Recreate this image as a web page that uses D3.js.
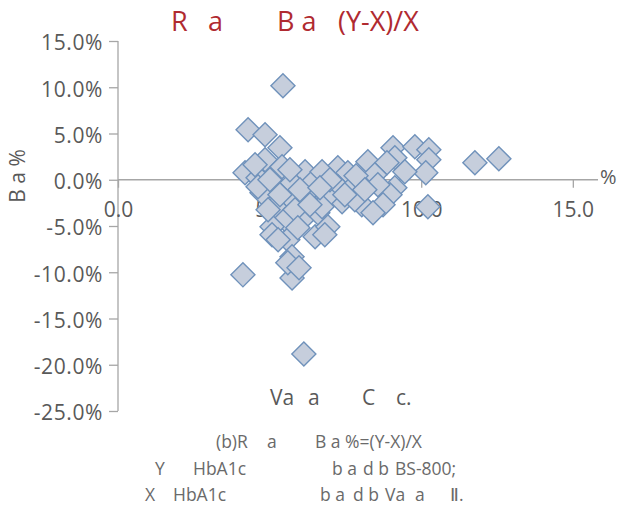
<!DOCTYPE html>
<html>
<head>
<meta charset="utf-8">
<script src="https://cdn.jsdelivr.net/npm/d3@7"></script>
<style>
  html, body { margin: 0; padding: 0; background: #fff; }
  svg { display: block; font-family: "Open Sans", "Noto Sans", sans-serif; }
  text { white-space: pre; }
</style>
</head>
<body>
<svg id="chart" width="619" height="507"></svg>
<script>
// HbA1c level (%) for each sample
const hba1cLevel = [
  5.44, 4.29, 4.85, 5.34, 4.85, 4.19, 5.41, 4.62, 5.18, 5.74,
  6.17, 6.40, 5.74, 6.40, 5.18, 5.51, 6.17, 5.08, 5.60, 6.50,
  4.75, 4.95, 5.74, 4.62, 5.84, 9.07, 9.13, 8.24, 7.25, 7.58,
  8.87, 8.47, 9.79, 6.73, 9.13, 8.97, 8.57, 8.04, 8.74, 8.41,
  7.25, 7.39, 6.89, 6.92, 6.82, 6.59, 6.73, 10.25, 10.25, 10.15,
  11.77, 12.56, 10.22, 4.12, 5.74, 5.60, 5.97, 6.13, 5.08, 6.00,
  6.99, 7.72, 7.81, 5.01, 5.34, 5.93, 6.33, 7.85, 9.46, 4.52,
  5.28, 7.48, 8.14, 5.67, 6.66
];
// Relative bias (%) = (Y - X) / X
const relativeBias = [
  10.17, 5.41, 4.87, 3.46, 2.16, 0.76, 1.41, 0.22, -0.76, -0.32,
  0.87, -0.32, -2.16, -1.84, -2.92, -4.33, -4.00, -5.09, -6.49, -6.17,
  -1.41, -3.25, -8.33, -0.76, -3.25, 3.46, 2.38, 1.95, 1.30, 0.76,
  1.84, 0.54, 3.57, 0.87, -0.87, -1.62, -0.54, -2.71, -2.71, -3.57,
  -0.76, -2.38, -1.84, -5.09, -5.95, -3.57, -2.92, 3.25, 2.16, 0.76,
  1.84, 2.27, -2.92, -10.28, -10.61, -8.98, -9.52, -18.83, -5.95, -1.08,
  0.00, -0.87, -2.16, 0.00, -1.62, -5.19, -2.71, 0.43, 0.87, 1.62,
  -6.49, -1.62, -1.08, 1.08, -0.87
];
const xTicks = [0, 5, 10, 15];
const yTicks = [15, 10, 5, 0, -5, -10, -15, -20, -25];

// Text pieces: [string, x]
const titleParts = [["R", 171], ["a", 208], ["B a", 277], ["(Y-X)/X", 338]];
const yTitle = "B a %";
const xTitleParts = [["Va", 270], ["a", 308], ["C", 362], ["c.", 396]];
const captionLines = [
  [["(b)R", 216], ["a", 267], ["B a %=(Y-X)/X", 315]],
  [["Y", 155], ["HbA1c", 193], ["b a", 332], ["d b", 363], ["BS-800;", 395]],
  [["X", 145], ["HbA1c", 173], ["b a", 320], ["d b", 353], ["Va", 385], ["a", 415], ["Ⅱ.", 450]]
];

const svg = d3.select("#chart");
const axisColor = "#a6a6a6";
const labelColor = "#595959";

const x = d3.scaleLinear().domain([0, 15.83]).range([118, 598]);
const y = d3.scaleLinear().domain([-25, 15]).range([411, 41]);

// Y axis
const yAxis = svg.append("g").attr("transform", `translate(${x(0)},0)`)
  .call(d3.axisLeft(y).tickValues(yTicks).tickSize(9).tickPadding(6)
    .tickFormat(d => d.toFixed(1) + "%"));
yAxis.select(".domain").attr("stroke", axisColor).attr("stroke-width", 1.3)
  .attr("d", `M0,${y(15)}V${y(-25)}`);
yAxis.selectAll(".tick line").attr("stroke", axisColor).attr("stroke-width", 1.3);
yAxis.selectAll(".tick text").attr("fill", labelColor).attr("font-size", 21)
  .attr("letter-spacing", 0.6)
  .attr("dy", "0.42em").attr("font-family", "Open Sans");

// X axis through zero bias
const xAxis = svg.append("g").attr("transform", `translate(0,${y(0)})`)
  .call(d3.axisBottom(x).tickValues(xTicks).tickSize(8).tickPadding(14)
    .tickFormat(d => d.toFixed(1)));
xAxis.select(".domain").attr("stroke", axisColor).attr("stroke-width", 1.3)
  .attr("d", `M${x(0)},0H${x(15.83)}`);
xAxis.selectAll(".tick line").attr("stroke", axisColor).attr("stroke-width", 1.3);
xAxis.selectAll(".tick text").attr("fill", labelColor).attr("font-size", 21)
  .attr("font-family", "Open Sans");

svg.append("text").attr("x", 600).attr("y", y(0) + 4)
  .attr("fill", labelColor).attr("font-size", 20).text("%");

// Points
const pts = hba1cLevel.map((v, i) => ({ x: v, y: relativeBias[i] }));
const diamond = d3.symbol().type(d3.symbolSquare).size(290);
svg.append("g").selectAll("path").data(pts).join("path")
  .attr("d", diamond)
  .attr("transform", d => `translate(${x(d.x)},${y(d.y)}) rotate(45)`)
  .attr("fill", "#c6cedc")
  .attr("stroke", "#7092bb")
  .attr("stroke-width", 1.4);

// Title
const title = svg.append("text").attr("y", 31).attr("fill", "#b02a30").attr("font-size", 27);
title.selectAll("tspan").data(titleParts).join("tspan")
  .attr("x", d => d[1]).text(d => d[0]);

// Y axis title
svg.append("text")
  .attr("transform", "translate(25,176) rotate(-90)")
  .attr("text-anchor", "middle").attr("fill", labelColor).attr("font-size", 21)
  .text(yTitle);

// X axis title
const xt = svg.append("text").attr("y", 405).attr("fill", labelColor).attr("font-size", 21);
xt.selectAll("tspan").data(xTitleParts).join("tspan")
  .attr("x", d => d[1]).text(d => d[0]);

// Caption
captionLines.forEach((line, i) => {
  const t = svg.append("text").attr("y", 448 + i * 26.5)
    .attr("fill", "#6a6a6a").attr("font-size", 17.5);
  t.selectAll("tspan").data(line).join("tspan")
    .attr("x", d => d[1]).text(d => d[0]);
});
</script>
</body>
</html>
